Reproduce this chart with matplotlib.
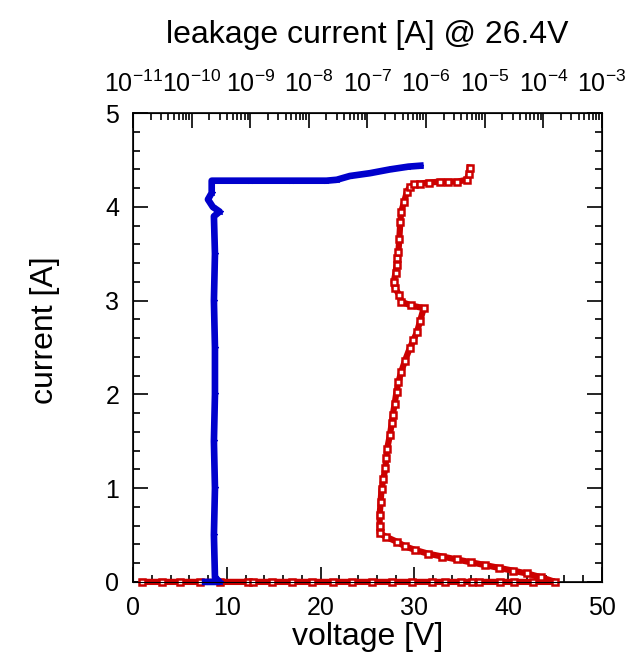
import matplotlib
matplotlib.use("Agg")
import matplotlib.pyplot as plt
from matplotlib.ticker import MultipleLocator, LogLocator

plt.rcParams['font.family'] = ['Liberation Sans', 'DejaVu Sans']
plt.rcParams['mathtext.fontset'] = 'custom'
plt.rcParams['mathtext.rm'] = 'Liberation Sans'
plt.rcParams['mathtext.it'] = 'Liberation Sans'
plt.rcParams['mathtext.default'] = 'regular'

# red: voltage sweep (V) vs current (A)
red_voltage = [1.0, 3.1, 5.0, 7.1, 9.3, 12.3, 12.8, 14.8, 16.9, 19.1, 21.3, 23.3,
               25.5, 27.6, 29.7, 31.9, 33.3, 35.0, 36.1, 36.9, 39.1, 40.6, 42.7, 45.0,
               43.5, 42.0, 40.5, 39.0, 37.5, 36.0, 34.5, 33.0, 31.5, 30.1, 29.0, 28.1,
               27.0, 26.3, 26.3, 26.3, 26.4, 26.5, 26.7, 26.9, 27.0, 27.1, 27.4, 27.6,
               27.7, 27.9, 28.1, 28.3, 28.6, 29.0, 29.5, 29.9, 30.3, 30.6, 31.0, 29.6,
               28.6, 28.4, 27.9, 27.8, 28.0, 28.1, 28.2, 28.3, 28.4, 28.5, 28.6, 28.9,
               29.2, 29.5, 30.0, 30.6, 31.6, 32.7, 33.6, 34.6, 35.6, 35.8, 35.9]
red_current = [0, 0, 0, 0, 0, 0, 0, 0, 0, 0, 0, 0,
               0, 0, 0, 0, 0, 0, 0, 0, 0, 0, 0, 0,
               0.05, 0.09, 0.12, 0.15, 0.18, 0.21, 0.24, 0.27, 0.30, 0.34, 0.38, 0.43,
               0.48, 0.52, 0.60, 0.71, 0.85, 0.99, 1.10, 1.21, 1.32, 1.42, 1.57, 1.70,
               1.78, 1.90, 2.03, 2.13, 2.24, 2.36, 2.49, 2.58, 2.67, 2.78, 2.92, 2.95,
               2.99, 3.06, 3.14, 3.20, 3.30, 3.38, 3.45, 3.52, 3.66, 3.84, 3.95, 4.05,
               4.16, 4.21, 4.24, 4.25, 4.26, 4.27, 4.27, 4.27, 4.29, 4.35, 4.42]

# blue: leakage current (A) @ 26.4V vs current (A)
blue_leakage = [1.7e-10, 3.0e-10, 2.5e-10, 2.4e-10, 2.5e-10, 2.4e-10, 2.5e-10, 2.5e-10,
                2.4e-10, 2.5e-10, 2.4e-10, 3.0e-10, 2.3e-10, 1.9e-10, 2.2e-10,
                2.2e-10, 1.0e-9, 5.0e-9, 2.0e-8, 3.0e-8, 5.0e-8, 1.1e-7, 2.4e-7, 5.0e-7, 8.0e-7]
blue_current = [0, 0, 0.05, 0.5, 1.0, 1.5, 2.0, 2.5,
                3.0, 3.5, 3.9, 3.95, 4.0, 4.08, 4.15,
                4.28, 4.28, 4.28, 4.28, 4.29, 4.33, 4.36, 4.40, 4.43, 4.44]

red = '#cc0000'
blue = '#0000cc'

fig = plt.figure(figsize=(6.26, 6.62), dpi=100)
ax = fig.add_axes([0.2125, 0.121, 0.749, 0.708])

ax.plot(red_voltage, red_current, color=red, lw=4.5, marker='s', ms=5,
        mfc='white', mec=red, mew=1.8, clip_on=False, zorder=3)

ax.set_xlim(0, 50)
ax.set_ylim(0, 5)
ax.xaxis.set_major_locator(MultipleLocator(10))
ax.xaxis.set_minor_locator(MultipleLocator(2))
ax.yaxis.set_major_locator(MultipleLocator(1))
ax.yaxis.set_minor_locator(MultipleLocator(0.2))
ax.tick_params(which='both', direction='in', right=True, top=False, labelsize=18,
               width=1.2, pad=10)
ax.tick_params(which='major', length=11)
ax.tick_params(which='minor', length=5)
ax.set_xlabel('voltage [V]', fontsize=23)
ax.set_ylabel('current [A]', fontsize=23)
ax.xaxis.set_label_coords(0.5, -0.085)
ax.yaxis.set_label_coords(-0.156, 0.537)
for s in ax.spines.values():
    s.set_linewidth(1.2)

ax2 = ax.twiny()
ax2.plot(blue_leakage, blue_current, color=blue, lw=4.8, marker='*', ms=4,
         mec=blue, clip_on=False, zorder=2)
ax2.set_xscale('log')
ax2.set_xlim(1e-11, 1e-3)
ax2.xaxis.set_major_locator(LogLocator(base=10, numticks=20))
ax2.xaxis.set_minor_locator(LogLocator(base=10, subs=range(2, 10), numticks=20))
ax2.xaxis.set_minor_formatter(plt.NullFormatter())
ax2.tick_params(which='both', direction='in', labelsize=18, width=1.2, pad=12)
ax2.tick_params(which='major', length=11)
ax2.tick_params(which='minor', length=5)
ax2.set_xlabel('leakage current [A] @ 26.4V', fontsize=23)
ax2.xaxis.set_label_coords(0.5, 1.15)

fig.savefig('out.png', dpi=100)
